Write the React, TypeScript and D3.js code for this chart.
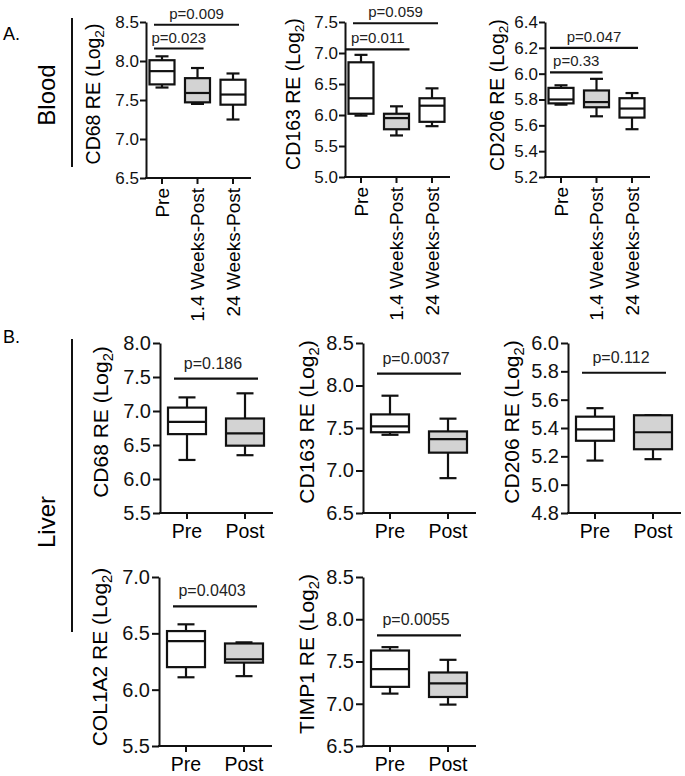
import React, { useEffect, useRef } from 'react';
import * as d3 from 'd3';

const FONT = "'Liberation Sans', Arial, Helvetica, sans-serif";

// groups
const bloodGroups = ['Pre', '1.4 Weeks-Post', '24 Weeks-Post'];
const liverGroups = ['Pre', 'Post'];

// box stats per group: [min, q1, median, q3, max]
const bloodCD68 = [[7.66, 7.70, 7.87, 8.01, 8.06], [7.45, 7.47, 7.59, 7.78, 7.91], [7.25, 7.44, 7.57, 7.76, 7.84]];
const bloodCD163 = [[5.99, 6.02, 6.27, 6.85, 6.97], [5.67, 5.77, 5.95, 6.02, 6.14], [5.82, 5.89, 6.15, 6.27, 6.43]];
const bloodCD206 = [[5.76, 5.77, 5.80, 5.89, 5.91], [5.67, 5.74, 5.78, 5.87, 5.96], [5.57, 5.66, 5.73, 5.81, 5.85]];
const liverCD68 = [[6.28, 6.66, 6.84, 7.05, 7.20], [6.35, 6.49, 6.67, 6.89, 7.26]];
const liverCD163 = [[7.42, 7.45, 7.52, 7.66, 7.88], [6.91, 7.21, 7.37, 7.46, 7.61]];
const liverCD206 = [[5.17, 5.31, 5.39, 5.48, 5.54], [5.18, 5.25, 5.37, 5.49, 5.49]];
const liverCOL1A2 = [[6.11, 6.20, 6.43, 6.52, 6.58], [6.12, 6.24, 6.27, 6.41, 6.42]];
const liverTIMP1 = [[7.12, 7.20, 7.41, 7.63, 7.67], [6.99, 7.08, 7.24, 7.37, 7.52]];

const bloodFills = ['#ffffff', '#d3d3d3', '#ffffff'];
const liverFills = ['#ffffff', '#d3d3d3'];

// p-value brackets: [from group, to group, level, text]
const bloodCD68P = [[0, 2, 8.465, 'p=0.009'], [0, 1, 8.16, 'p=0.023']];
const bloodCD163P = [[0, 2, 7.48, 'p=0.059'], [0, 1, 7.06, 'p=0.011']];
const bloodCD206P = [[0, 2, 6.2, 'p=0.047'], [0, 1, 6.01, 'p=0.33']];
const liverCD68P = [[0, 1, 7.475, 'p=0.186']];
const liverCD163P = [[0, 1, 8.14, 'p=0.0037']];
const liverCD206P = [[0, 1, 5.79, 'p=0.112']];
const liverCOL1A2P = [[0, 1, 6.74, 'p=0.0403']];
const liverTIMP1P = [[0, 1, 7.81, 'p=0.0055']];

const blood = { groups: bloodGroups, fills: bloodFills, axLen: 105, c0: 16, c1: 87, boxW: 25, capW: 13, tickFont: 17, tickSize: 6, tickPad: 1, labelFont: 19.5, pFont: 15, pGap: 6, pL: -8, pR: 6, rotated: true };
const liver = { groups: liverGroups, fills: liverFills, axLen: 113, c0: 27, c1: 85, boxW: 38, capW: 17, tickFont: 20, tickSize: 7, tickPad: 2, labelFont: 21, pFont: 16, pGap: 10, pL: -13, pR: 13, rotated: false };

const panels = [
  { ...blood, gene: 'CD68', stats: bloodCD68, p: bloodCD68P, domain: [6.5, 8.5], step: 0.5, ax: 146, top: 22, bottom: 178, lx: 93, ly: 94 },
  { ...blood, gene: 'CD163', stats: bloodCD163, p: bloodCD163P, domain: [5.0, 7.5], step: 0.5, ax: 345, top: 22, bottom: 177, lx: 293, ly: 94, pOverride: { 1: [-15, 13] } },
  { ...blood, gene: 'CD206', stats: bloodCD206, p: bloodCD206P, domain: [5.2, 6.4], step: 0.2, ax: 545, top: 22, bottom: 177, lx: 497, ly: 95, pL: -11 },
  { ...liver, gene: 'CD68', stats: liverCD68, p: liverCD68P, domain: [5.5, 8.0], step: 0.5, ax: 160, top: 343, bottom: 513, lx: 101, ly: 422 },
  { ...liver, gene: 'CD163', stats: liverCD163, p: liverCD163P, domain: [6.5, 8.5], step: 0.5, ax: 363, top: 343, bottom: 513, lx: 307, ly: 422 },
  { ...liver, gene: 'CD206', stats: liverCD206, p: liverCD206P, domain: [4.8, 6.0], step: 0.2, ax: 568, top: 343, bottom: 513, lx: 512, ly: 422 },
  { ...liver, gene: 'COL1A2', stats: liverCOL1A2, p: liverCOL1A2P, domain: [5.5, 7.0], step: 0.5, ax: 159, top: 577, bottom: 746, lx: 100, ly: 657 },
  { ...liver, gene: 'TIMP1', stats: liverTIMP1, p: liverTIMP1P, domain: [6.5, 8.5], step: 0.5, ax: 363, top: 577, bottom: 746, lx: 307, ly: 654 },
];

const App = () => {
  const ref = useRef<SVGSVGElement>(null);

  useEffect(() => {
    const svg = d3.select(ref.current);
    svg.selectAll('*').remove();
    svg.attr('font-family', FONT);

    // section labels
    svg.append('text').attr('x', 3).attr('y', 40).attr('font-size', 18).text('A.');
    svg.append('text').attr('x', 3).attr('y', 343).attr('font-size', 18).text('B.');

    const section = (name, cx, cy, y0, y1) => {
      svg.append('line').attr('x1', 72).attr('x2', 72).attr('y1', y0).attr('y2', y1)
        .attr('stroke', '#111').attr('stroke-width', 2);
      svg.append('text').attr('transform', `translate(${cx},${cy}) rotate(-90)`)
        .attr('text-anchor', 'middle').attr('dy', '0.35em').attr('font-size', 24).text(name);
    };
    section('Blood', 47, 95, 18, 167);
    section('Liver', 47, 522, 339, 632);

    panels.forEach(pn => {
      const g = svg.append('g');
      const y = d3.scaleLinear().domain(pn.domain).range([pn.bottom, pn.top]);
      const x = d3.scalePoint().domain(pn.groups).range([pn.ax + pn.c0, pn.ax + pn.c1]);
      const ticks = d3.range(pn.domain[0], pn.domain[1] + pn.step / 2, pn.step);

      // y axis
      const yAxis = g.append('g').attr('transform', `translate(${pn.ax},0)`)
        .call(d3.axisLeft(y).tickValues(ticks).tickFormat(d3.format('.1f'))
          .tickSize(pn.tickSize).tickPadding(pn.tickPad).tickSizeOuter(0));
      yAxis.attr('font-family', FONT).attr('font-size', pn.tickFont);
      yAxis.selectAll('path, line').attr('stroke', '#111').attr('stroke-width', 2);
      yAxis.selectAll('text').attr('fill', '#111');

      // x axis line + ticks
      g.append('line').attr('x1', pn.ax - 1).attr('x2', pn.ax + pn.axLen)
        .attr('y1', pn.bottom).attr('y2', pn.bottom).attr('stroke', '#111').attr('stroke-width', 2);
      g.selectAll('.xt').data(pn.groups).enter().append('line')
        .attr('x1', d => x(d)).attr('x2', d => x(d))
        .attr('y1', pn.bottom).attr('y2', pn.bottom + 6)
        .attr('stroke', '#111').attr('stroke-width', 2);

      if (pn.rotated) {
        g.selectAll('.xl').data(pn.groups).enter().append('text')
          .attr('transform', d => `translate(${x(d)},${pn.bottom + 10}) rotate(-90)`)
          .attr('text-anchor', 'end').attr('dy', '0.35em').attr('font-size', 19)
          .text(d => d);
      } else {
        g.selectAll('.xl').data(pn.groups).enter().append('text')
          .attr('x', d => x(d)).attr('y', pn.bottom + 25)
          .attr('text-anchor', 'middle').attr('font-size', 19.5)
          .text(d => d);
      }

      // y label
      const lab = g.append('text').attr('transform', `translate(${pn.lx},${pn.ly}) rotate(-90)`)
        .attr('text-anchor', 'middle').attr('dy', '0.35em').attr('font-size', pn.labelFont);
      lab.append('tspan').text(`${pn.gene} RE (Log`);
      lab.append('tspan').attr('font-size', pn.labelFont * 0.7).attr('dy', '0.3em').text('2');
      lab.append('tspan').attr('dy', '-0.21em').text(')');

      // boxes
      pn.stats.forEach((s, i) => {
        const cx = x(pn.groups[i]);
        const [mn, q1, md, q3, mx] = s;
        const bg = g.append('g').attr('stroke', '#111').attr('stroke-width', 2.2);
        bg.append('line').attr('x1', cx).attr('x2', cx).attr('y1', y(mx)).attr('y2', y(mn));
        bg.append('line').attr('x1', cx - pn.capW / 2).attr('x2', cx + pn.capW / 2).attr('y1', y(mx)).attr('y2', y(mx));
        bg.append('line').attr('x1', cx - pn.capW / 2).attr('x2', cx + pn.capW / 2).attr('y1', y(mn)).attr('y2', y(mn));
        bg.append('rect').attr('x', cx - pn.boxW / 2).attr('width', pn.boxW)
          .attr('y', y(q3)).attr('height', y(q1) - y(q3)).attr('fill', pn.fills[i]);
        bg.append('line').attr('x1', cx - pn.boxW / 2).attr('x2', cx + pn.boxW / 2).attr('y1', y(md)).attr('y2', y(md));
      });

      // p-value bars
      pn.p.forEach((c, k) => {
        const [a, b, lv, txt] = c;
        const off = (pn.pOverride && pn.pOverride[k]) || [pn.pL, pn.pR];
        const x0 = x(pn.groups[a]) + off[0];
        const x1 = x(pn.groups[b]) + off[1];
        g.append('line').attr('x1', x0).attr('x2', x1).attr('y1', y(lv)).attr('y2', y(lv))
          .attr('stroke', '#111').attr('stroke-width', 2.2);
        g.append('text').attr('x', (x0 + x1) / 2 - (pn.rotated ? 0 : 3)).attr('y', y(lv) - pn.pGap)
          .attr('text-anchor', 'middle').attr('font-size', pn.pFont).attr('fill', '#222').text(txt);
      });
    });
  }, []);

  return (
    <svg ref={ref} width={685} height={776}
      style={{ position: 'absolute', left: 0, top: 0, background: '#fff' }} />
  );
};

export default App;
